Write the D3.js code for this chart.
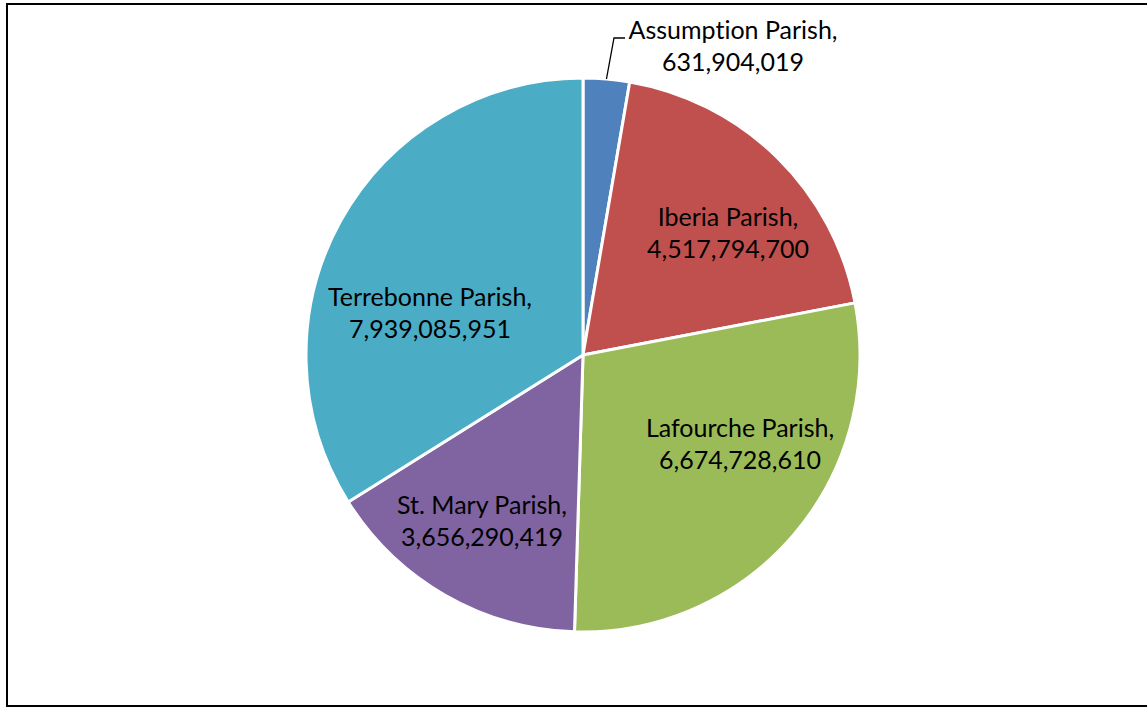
<!DOCTYPE html>
<html>
<head>
<meta charset="utf-8">
<script src="https://cdn.jsdelivr.net/npm/d3@7"></script>
<style>
  html, body { margin: 0; padding: 0; background: #fff; }
  svg { display: block; }
  text { font-family: Lato, "Liberation Sans", sans-serif; fill: #000; font-variant-ligatures: none; }
</style>
</head>
<body>
<svg id="chart" width="1147" height="707"></svg>
<script>
// ---- data ----
const categories = ["Assumption Parish", "Iberia Parish", "Lafourche Parish", "St. Mary Parish", "Terrebonne Parish"];
const values = [631904019, 4517794700, 6674728610, 3656290419, 7939085951];
const colors = ["#4F81BD", "#C0504D", "#9BBB59", "#8064A2", "#4BACC6"];
// label anchor positions (layout) relative to pie centre
const labelOffsets = [[150, -301], [145, -114], [157, 97], [-101, 174], [-153, -34]];

const svg = d3.select("#chart");

// frame
svg.append("rect")
  .attr("x", 7).attr("y", 4).attr("width", 1160).attr("height", 702)
  .attr("fill", "none").attr("stroke", "#000").attr("stroke-width", 2);

const cx = 583, cy = 355, R = 277;
const g = svg.append("g").attr("transform", `translate(${cx},${cy})`);

const pie = d3.pie().sort(null).value(d => d.value);
const data = categories.map((c, i) => ({ name: c, value: values[i], color: colors[i], off: labelOffsets[i] }));
const arcs = pie(data);
const arc = d3.arc().innerRadius(0).outerRadius(R);

g.selectAll("path.slice").data(arcs).enter().append("path")
  .attr("class", "slice")
  .attr("d", arc)
  .attr("fill", d => d.data.color)
  .attr("stroke", "#fff")
  .attr("stroke-width", 3)
  .attr("stroke-linejoin", "round");

const fmt = d3.format(",");
const fs = 25;
const lbl = g.selectAll("g.lbl").data(arcs).enter().append("g")
  .attr("class", "lbl")
  .attr("transform", d => `translate(${d.data.off[0]},${d.data.off[1]})`);
lbl.append("text").attr("text-anchor", "middle").attr("y", -15)
  .style("font-size", fs + "px")
  .text(d => d.data.name + ",");
lbl.append("text").attr("text-anchor", "middle").attr("y", 17)
  .style("font-size", fs + "px")
  .text(d => fmt(d.data.value));

// leader line for the first (small) slice
const a0 = arcs[0];
const mid = (a0.startAngle + a0.endAngle) / 2;
const p0 = [Math.sin(mid) * R, -Math.cos(mid) * R];
const p1 = [31, -317];
const p2 = [42, -317];
g.append("path")
  .attr("d", d3.line()([p0, p1, p2]))
  .attr("fill", "none").attr("stroke", "#000").attr("stroke-width", 1.3);
</script>
</body>
</html>
